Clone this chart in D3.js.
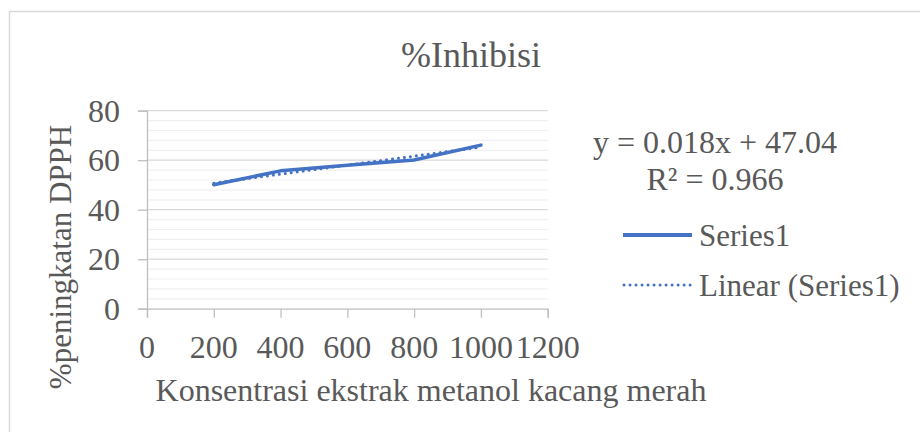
<!DOCTYPE html>
<html>
<head>
<meta charset="utf-8">
<script src="https://cdn.jsdelivr.net/npm/d3@7"></script>
<style>
  html, body { margin: 0; padding: 0; background: #ffffff; }
  svg { display: block; }
  text { font-family: "Liberation Serif", "Times New Roman", serif; fill: #595959; }
</style>
</head>
<body>
<svg id="chart" width="920" height="432"></svg>
<script>
// ---- data ----
const concentrations = [200, 400, 600, 800, 1000];
const inhibition = [50.1, 55.7, 58.0, 60.1, 66.1];
const xTicks = [0, 200, 400, 600, 800, 1000, 1200];
const yTicks = [0, 20, 40, 60, 80];
const chartTitle = "%Inhibisi";
const xTitle = "Konsentrasi ekstrak metanol kacang merah";
const yTitle = "%peningkatan DPPH";
const seriesNames = ["Series1", "Linear (Series1)"];
const equationLines = ["y = 0.018x + 47.04", "R\u00B2 = 0.966"];

// ---- layout ----
const svg = d3.select("#chart");
const plot = { left: 147, right: 547.7, top: 110.7, bottom: 308.7 };
const color = "#4472C4";

const x = d3.scaleLinear().domain([0, 1200]).range([plot.left, plot.right]);
const y = d3.scaleLinear().domain([0, 80]).range([plot.bottom, plot.top]);

// outer border
svg.append("rect")
  .attr("x", 9.5).attr("y", 11.5)
  .attr("width", 930).attr("height", 440)
  .attr("fill", "none").attr("stroke", "#d9d9d9").attr("stroke-width", 1.5);

// minor gridlines
const minor = d3.range(0, 80.001, 4).filter(v => v % 20 !== 0);
svg.append("g").selectAll("line").data(minor).join("line")
  .attr("x1", plot.left).attr("x2", plot.right)
  .attr("y1", d => y(d)).attr("y2", d => y(d))
  .attr("stroke", "#f0f0f0").attr("stroke-width", 1.2);

// major gridlines
svg.append("g").selectAll("line").data(yTicks.filter(v => v > 0)).join("line")
  .attr("x1", plot.left).attr("x2", plot.right)
  .attr("y1", d => y(d)).attr("y2", d => y(d))
  .attr("stroke", "#d9d9d9").attr("stroke-width", 1.3);

// axes
const axisColor = "#bfbfbf";
const yAxis = svg.append("g").attr("transform", `translate(${plot.left},0)`)
  .call(d3.axisLeft(y).tickValues(yTicks).tickSize(9).tickFormat(""));
const xAxis = svg.append("g").attr("transform", `translate(0,${plot.bottom})`)
  .call(d3.axisBottom(x).tickValues(xTicks).tickSize(9).tickFormat(""));
[yAxis, xAxis].forEach(g => {
  g.selectAll("path").attr("stroke", axisColor).attr("stroke-width", 1.3);
  g.selectAll("line").attr("stroke", axisColor).attr("stroke-width", 1.3);
});

// tick labels
svg.append("g").selectAll("text").data(yTicks).join("text")
  .attr("x", 120).attr("y", d => y(d) + 11)
  .attr("text-anchor", "end").attr("font-size", 32)
  .text(d => d);
svg.append("g").selectAll("text").data(xTicks).join("text")
  .attr("x", d => x(d)).attr("y", 358)
  .attr("text-anchor", "middle").attr("font-size", 32)
  .text(d => d);

// titles
svg.append("text").attr("x", 471).attr("y", 67)
  .attr("text-anchor", "middle").attr("font-size", 36).text(chartTitle);
svg.append("text").attr("x", 431).attr("y", 401)
  .attr("text-anchor", "middle").attr("font-size", 32).text(xTitle);
svg.append("text")
  .attr("transform", "translate(71,257) rotate(-90)")
  .attr("text-anchor", "middle").attr("font-size", 31).text(yTitle);

// least squares trendline from data
const n = concentrations.length;
const mx = d3.mean(concentrations), my = d3.mean(inhibition);
const slope = d3.sum(concentrations, (c, i) => (c - mx) * (inhibition[i] - my)) /
              d3.sum(concentrations, c => (c - mx) * (c - mx));
const intercept = my - slope * mx;
const xExt = d3.extent(concentrations);
const trend = xExt.map(c => [c, intercept + slope * c]);

const lineGen = d3.line().x(d => x(d[0])).y(d => y(d[1]));

svg.append("path")
  .datum(concentrations.map((c, i) => [c, inhibition[i]]))
  .attr("d", lineGen)
  .attr("fill", "none").attr("stroke", color)
  .attr("stroke-width", 3.5).attr("stroke-linecap", "round").attr("stroke-linejoin", "round");

svg.append("path")
  .datum(trend)
  .attr("d", lineGen)
  .attr("fill", "none").attr("stroke", color)
  .attr("stroke-width", 3).attr("stroke-linecap", "round")
  .attr("stroke-dasharray", "0.01,6");

// equation
svg.append("g").selectAll("text").data(equationLines).join("text")
  .attr("x", 715).attr("y", (d, i) => 153 + i * 36.5)
  .attr("text-anchor", "middle").attr("font-size", 32)
  .text(d => d);

// legend
const legend = svg.append("g");
const legY = [235, 285];
legend.append("line").attr("x1", 623).attr("x2", 692).attr("y1", legY[0]).attr("y2", legY[0])
  .attr("stroke", color).attr("stroke-width", 4);
legend.append("line").attr("x1", 624).attr("x2", 692).attr("y1", legY[1]).attr("y2", legY[1])
  .attr("stroke", color).attr("stroke-width", 3).attr("stroke-linecap", "round")
  .attr("stroke-dasharray", "0.01,6");
legend.selectAll("text").data(seriesNames).join("text")
  .attr("x", 699).attr("y", (d, i) => legY[i] + 11)
  .attr("font-size", 31)
  .text(d => d);
</script>
</body>
</html>
